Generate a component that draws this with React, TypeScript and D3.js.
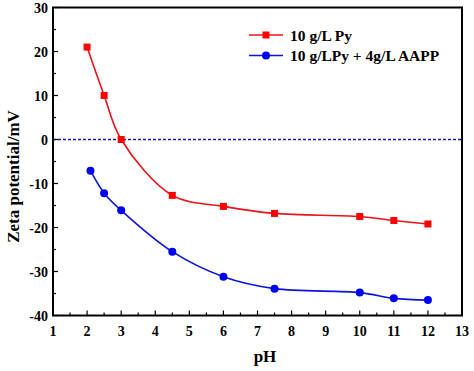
import React from 'react';
import * as d3 from 'd3';

const pyX = [2, 2.5, 3, 4.5, 6, 7.5, 10, 11, 12];
const pyY = [21, 10, 0, -12.7, -15.2, -16.8, -17.5, -18.4, -19.2];
const aappX = [2.1, 2.5, 3, 4.5, 6, 7.5, 10, 11, 12];
const aappY = [-7.1, -12.2, -16.1, -25.5, -31.2, -33.9, -34.8, -36.1, -36.5];
const xTicks = [1, 2, 3, 4, 5, 6, 7, 8, 9, 10, 11, 12, 13];
const yTicks = [30, 20, 10, 0, -10, -20, -30, -40];
const seriesNames = ['10 g/L Py', '10 g/LPy + 4g/L AAPP'];

const W = 474;
const H = 371;
const margin = { top: 7.5, right: 12, bottom: 55.5, left: 53 };
const font = '"Liberation Serif", "Times New Roman", serif';

export default function App() {
  const x = d3.scaleLinear().domain([1, 13]).range([margin.left, W - margin.right]);
  const y = d3.scaleLinear().domain([-40, 30]).range([H - margin.bottom, margin.top]);

  const line = d3
    .line<[number, number]>()
    .x((d) => x(d[0]))
    .y((d) => y(d[1]))
    .curve(d3.curveCatmullRom.alpha(0.5));

  const py = pyX.map((v, i) => [v, pyY[i]] as [number, number]);
  const aapp = aappX.map((v, i) => [v, aappY[i]] as [number, number]);

  const minorX = d3.range(1.5, 13, 1);
  const minorY = d3.range(-35, 30, 10);
  const [x0, x1] = x.range();
  const [yb, yt] = y.range();

  return (
    <svg width={W} height={H} style={{ position: 'absolute', left: 0, top: 0, background: '#fff' }}>
      {/* zero line */}
      <line x1={x0} x2={x1} y1={y(0)} y2={y(0)} stroke="#1a1aa8" strokeWidth={1.5} strokeDasharray="3,2" />

      <path d={line(py) ?? ''} fill="none" stroke="#e8141a" strokeWidth={1.6} />
      <path d={line(aapp) ?? ''} fill="none" stroke="#0a14e0" strokeWidth={1.6} />
      {py.map((d, i) => (
        <rect key={'r' + i} x={x(d[0]) - 3.5} y={y(d[1]) - 3.5} width={7} height={7} fill="#f00" />
      ))}
      {aapp.map((d, i) => (
        <circle key={'c' + i} cx={x(d[0])} cy={y(d[1])} r={4} fill="#0000f0" />
      ))}

      {/* ticks */}
      {xTicks.map((t) => (
        <g key={'xt' + t}>
          <line x1={x(t)} x2={x(t)} y1={yb} y2={yb - 5} stroke="#000" strokeWidth={1.2} />
          <text x={x(t)} y={yb + 20} textAnchor="middle" fontFamily={font} fontWeight="bold" fontSize={14}>
            {t}
          </text>
        </g>
      ))}
      {minorX.map((t) => (
        <line key={'xm' + t} x1={x(t)} x2={x(t)} y1={yb} y2={yb - 3} stroke="#000" strokeWidth={1.2} />
      ))}
      {yTicks.map((t) => (
        <g key={'yt' + t}>
          <line x1={x0} x2={x0 + 5} y1={y(t)} y2={y(t)} stroke="#000" strokeWidth={1.2} />
          <text x={x0 - 5} y={y(t) + 5} textAnchor="end" fontFamily={font} fontWeight="bold" fontSize={14}>
            {t}
          </text>
        </g>
      ))}
      {minorY.map((t) => (
        <line key={'ym' + t} x1={x0} x2={x0 + 3} y1={y(t)} y2={y(t)} stroke="#000" strokeWidth={1.2} />
      ))}

      {/* frame */}
      <rect x={x0} y={yt} width={x1 - x0} height={yb - yt} fill="none" stroke="#000" strokeWidth={2} />

      {/* axis titles */}
      <text x={265} y={362} textAnchor="middle" fontFamily={font} fontWeight="bold" fontSize={17}>
        pH
      </text>
      <text
        transform={`translate(19,${(yt + yb) / 2 + 15}) rotate(-90)`}
        textAnchor="middle"
        fontFamily={font}
        fontWeight="bold"
        fontSize={17}
      >
        Zeta potential/mV
      </text>

      {/* legend */}
      {seriesNames.map((name, i) => {
        const ly = 35 + i * 20.5;
        const red = i === 0;
        return (
          <g key={name}>
            <line x1={249} x2={283} y1={ly} y2={ly} stroke={red ? '#e8141a' : '#0a14e0'} strokeWidth={1.6} />
            {red ? (
              <rect x={262.5} y={ly - 3.5} width={7} height={7} fill="#f00" />
            ) : (
              <circle cx={266} cy={ly} r={4} fill="#0000f0" />
            )}
            <text x={290} y={ly + 5.5} fontFamily={font} fontWeight="bold" fontSize={15.5}>
              {name}
            </text>
          </g>
        );
      })}
    </svg>
  );
}
